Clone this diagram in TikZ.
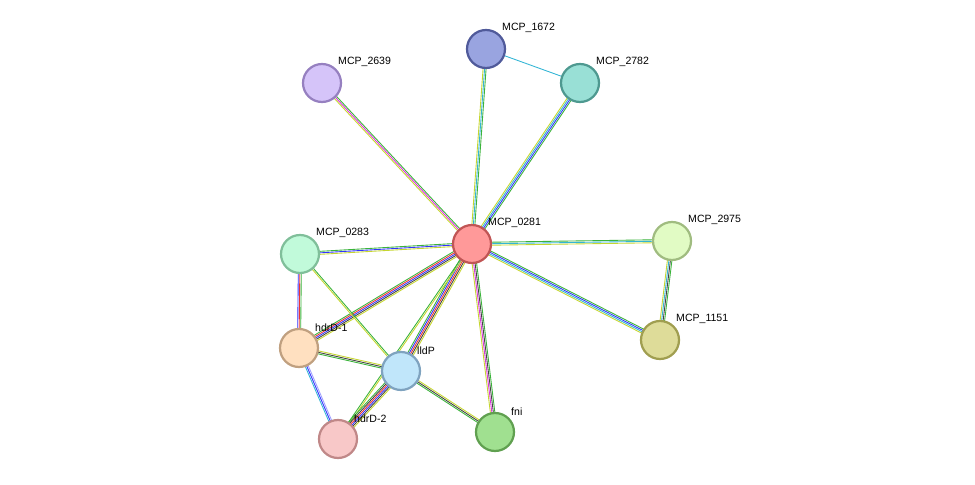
\documentclass[tikz,border=0pt]{standalone}
\usepackage{fontspec}
\setmainfont{Liberation Sans}
\usetikzlibrary{calc,backgrounds}

\definecolor{sgreen}{HTML}{3BB33B}
\definecolor{syellow}{HTML}{C6D630}
\definecolor{sblue}{HTML}{3333FF}
\definecolor{scyan}{HTML}{33B5D5}
\definecolor{smag}{HTML}{DD33DD}
\definecolor{sred}{HTML}{EE3333}
\definecolor{sblack}{HTML}{444444}
\definecolor{slblue}{HTML}{A0A0FF}

\tikzset{
  prot/.style 2 args={circle, minimum size=1.14cm, line width=1.9pt,
    /utils/exec={\definecolor{pfill}{HTML}{#1}\definecolor{pdraw}{HTML}{#2}},
    fill=pfill, draw=pdraw, inner sep=0pt},
  lab/.style={anchor=south west, inner sep=1.5pt, font=\fontsize{9}{10}\selectfont},
  link/.style={line width=0.75pt}
}

% #1,#2 nodes, #3 number of lines, #4 colours
\newcommand\links[4]{%
  \foreach \c [count=\i] in {#4} {
    \pgfmathsetmacro\o{(\i-(#3+1)/2)*0.045}
    \draw[link,\c] ($(#1)!\o cm!90:(#2)$) -- ($(#2)!\o cm!-90:(#1)$);
  }}

\begin{document}
\begin{tikzpicture}[x=0.03cm, y=-0.03cm]
\useasboundingbox (0,0) rectangle (975,485);

\node[prot={FF9999}{C05555}, label={[lab]45:MCP\_0281}] (m0281) at (472,244) {};
\node[prot={99A4E0}{505A9A}, label={[lab]45:MCP\_1672}] (m1672) at (486,49) {};
\node[prot={99E0D6}{4E9990}, label={[lab]45:MCP\_2782}] (m2782) at (580,83) {};
\node[prot={D5C4F9}{9680C0}, label={[lab]45:MCP\_2639}] (m2639) at (322,83) {};
\node[prot={C1FADA}{80BF9A}, label={[lab]45:MCP\_0283}] (m0283) at (300,254) {};
\node[prot={E1FBC4}{A0BC80}, label={[lab]45:MCP\_2975}] (m2975) at (672,241) {};
\node[prot={DEDC99}{A09E50}, label={[lab]45:MCP\_1151}] (m1151) at (660,340) {};
\node[prot={FFE0C0}{C0A080}, label={[lab]45:hdrD-1}] (hdrD1) at (299,348) {};
\node[prot={C0E6FA}{7FA3BF}, label={[lab]45:lldP}] (lldP) at (401,371) {};
\node[prot={F8C8C8}{C08888}, label={[lab]45:hdrD-2}] (hdrD2) at (338,439) {};
\node[prot={A0E090}{60A050}, label={[lab]45:fni}] (fni) at (495,432) {};

\begin{scope}[on background layer]
\links{m0281}{m2639}{3}{sgreen,smag,syellow}
\links{m0281}{m1672}{3}{sgreen,scyan,syellow}
\links{m0281}{m2782}{4}{sgreen,sblue,scyan,syellow}
\links{m1672}{m2782}{1}{scyan}
\links{m0281}{m2975}{3}{syellow,scyan,sgreen}
\links{m0281}{m1151}{4}{syellow,scyan,sblue,sgreen}
\links{m2975}{m1151}{4}{syellow,scyan,sblack,sgreen}
\links{m0281}{m0283}{3}{sgreen,sblue,syellow}
\links{m0281}{hdrD1}{5}{sgreen,sred,sblue,sblack,syellow}
\links{m0281}{lldP}{5}{sgreen,sblue,sred,sblack,syellow}
\links{m0281}{hdrD2}{2}{sgreen,syellow}
\links{m0281}{fni}{4}{syellow,smag,sblack,sgreen}
\links{lldP}{hdrD2}{6}{sgreen,sblack,sred,sblue,sblack,syellow}
\links{m0283}{hdrD1}{3}{sblue,sred,sgreen}
\links{m0283}{lldP}{2}{syellow,sgreen}
\links{hdrD1}{lldP}{3}{sgreen,sblack,syellow}
\links{hdrD1}{hdrD2}{3}{scyan,sblue,slblue}
\links{lldP}{fni}{3}{sgreen,sblack,syellow}
\end{scope}
\end{tikzpicture}
\end{document}
